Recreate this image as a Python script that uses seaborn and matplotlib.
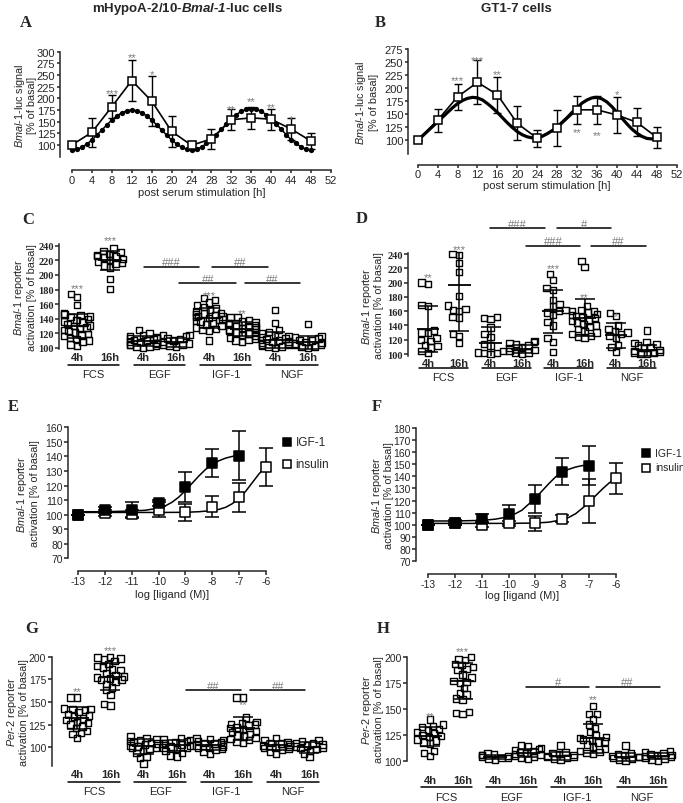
import warnings
import numpy as np
import pandas as pd
import matplotlib
matplotlib.use('Agg')
import matplotlib.pyplot as plt
import seaborn as sns

warnings.filterwarnings('ignore')

# ---------------- A / B : Bmal-1-luc time course ----------------
hours = [0, 4, 8, 12, 16, 20, 24, 28, 32, 36, 40, 44, 48]
a_signal = [100, 127, 182, 238, 194, 129, 99, 113, 154, 158, 155, 134, 108]
a_sd = [0, 31, 25, 44, 53, 33, 10, 22, 22, 24, 22, 24, 17]
b_signal = [100, 138, 183, 211, 187, 132, 103, 123, 158, 158, 148, 134, 105]
b_sd = [0, 22, 25, 42, 35, 33, 17, 35, 27, 27, 35, 27, 20]

fit_hours = list(range(49))
a_fit = [89, 90.5, 95, 102, 110.5, 121, 132, 143, 153.5, 162, 169, 173.5, 175,
         173.5, 169, 162, 153.5, 143, 132, 121, 110.5, 102, 95, 90.5, 89,
         90.5, 95.5, 103, 111, 122, 133.5, 145, 156, 165, 172, 176.5, 178,
         176.5, 172, 165, 156, 145, 133.5, 122, 111, 103, 95.5, 90.5, 89]
b_fit = [100, 108, 117, 126, 135, 144, 153, 162, 170, 176, 180, 182, 181,
         177, 170, 162, 153, 143, 133, 124, 116, 110, 106, 104, 104,
         107, 112, 118, 125, 134, 143, 153, 162, 171, 177, 181, 182,
         179, 173, 164, 153, 142, 131, 121, 113, 107, 103, 102, 104]

a_stars = [(8, 219, '***'), (12, 295, '**'), (16, 259, '*'), (32, 184, '**'),
           (36, 201, '**'), (40, 188, '**'), (44, 163, '*')]
b_stars = [(8, 222, '***'), (12, 260, '***'), (16, 233, '**'), (32, 121, '**'),
           (36, 115, '**'), (40, 194, '*')]

# ---------------- C / D / G / H : reporter activation ----------------
cond_order = ['FCS 4h', 'FCS 16h', 'EGF 4h', 'EGF 16h',
              'IGF-1 4h', 'IGF-1 16h', 'NGF 4h', 'NGF 16h']
time_labels = ['4h', '16h'] * 4
factor_labels = ['FCS', 'EGF', 'IGF-1', 'NGF']

c_vals = [
    [174, 170, 159, 147, 146, 145, 143, 142, 140, 138, 136, 135, 133, 131, 130,
     128, 127, 125, 123, 121, 119, 118, 116, 114, 112, 110, 108, 105, 103],
    [236, 233, 231, 229, 227, 226, 225, 224, 222, 220, 218, 216, 215, 213, 210, 194, 181],
    [125, 120, 118, 116, 115, 114, 113, 112, 111, 110, 109, 108, 107, 106, 105,
     104, 103, 102, 101, 100],
    [118, 118, 116, 114, 112, 110, 108, 106, 105, 104, 103, 102],
    [168, 166, 162, 158, 156, 154, 152, 150, 148, 147, 146, 145, 144, 143, 142,
     141, 140, 138, 137, 136, 134, 132, 130, 128, 126, 125, 124, 110],
    [142, 142, 138, 136, 135, 134, 133, 132, 131, 130, 129, 128, 127, 126, 125,
     124, 122, 121, 120, 118, 116, 114, 112, 111, 110, 108],
    [152, 134, 125, 122, 120, 118, 116, 115, 113, 112, 110, 109, 108, 107, 106,
     105, 104, 103, 102, 101, 100],
    [133, 116, 115, 113, 111, 110, 108, 107, 106, 105, 104, 102, 101, 100],
]
c_mean = [130, 220, 110, 108, 141, 126, 111, 108]
c_sd = [17, 13, 7, 6, 14, 10, 11, 9]
c_stars = [(0, 187, '***'), (1, 252, '***'), (4, 177, '***'), (5, 153, '**')]
c_hash = [(2.03, 3.70, 211, '###'), (4.10, 5.77, 211, '##'),
          (3.10, 4.82, 188.5, '##'), (5.08, 6.75, 188.5, '##')]

d_vals = [
    [200, 198, 169, 167, 133, 130, 129, 122, 120, 118, 113, 111, 109, 104, 101],
    [240, 239, 227, 215, 181, 168, 163, 162, 160, 152, 151, 128, 125, 115],
    [152, 150, 149, 137, 128, 124, 114, 112, 104, 102, 101, 100, 101],
    [118, 117, 115, 114, 112, 110, 108, 106, 104, 102, 101, 100],
    [212, 204, 192, 190, 176, 170, 167, 162, 160, 158, 155, 145, 140, 122, 117, 103],
    [230, 222, 167, 162, 160, 160, 158, 156, 155, 153, 152, 150, 148, 146, 144,
     142, 140, 138, 135, 132, 130, 128, 125, 124, 122],
    [157, 153, 140, 135, 132, 130, 128, 125, 122, 113, 110, 103],
    [133, 117, 115, 114, 112, 110, 108, 106, 104, 103, 102, 101, 100, 100],
]
d_mean = [135, 197, 115, 107, 160, 151, 126, 105]
d_sd = [32, 65, 23, 6, 30, 26, 18, 8]
d_stars = [(0, 212, '**'), (1, 252, '***'), (4, 225, '***'), (5, 185, '**'), (6, 158, '*')]
d_hash = [(1.98, 3.74, 276, '###'), (4.11, 5.84, 276, '#'),
          (3.13, 4.85, 251, '###'), (5.20, 6.97, 251, '##')]

g_vals = [
    [155, 155, 143, 142, 142, 141, 139, 137, 135, 134, 132, 130, 128, 127, 125,
     123, 121, 118, 116, 115, 110],
    [200, 199, 198, 197, 195, 192, 190, 188, 186, 185, 182, 180, 178, 177, 176,
     175, 174, 172, 170, 166, 163, 158, 148, 146],
    [112, 110, 109, 108, 107, 106, 105, 104, 103, 102, 101, 100, 99, 98, 96, 94, 90, 88, 82],
    [110, 109, 108, 107, 106, 105, 104, 103, 102, 101, 100, 99, 98, 96, 94, 91, 90],
    [110, 109, 108, 107, 106, 105, 104, 103, 102, 101, 100, 99, 98, 97, 95, 93],
    [155, 155, 133, 128, 127, 126, 125, 124, 122, 121, 120, 118, 117, 115, 113,
     112, 110, 109, 108, 106, 105],
    [110, 108, 106, 105, 104, 103, 102, 101, 100, 99, 98, 97, 95, 93],
    [108, 107, 105, 104, 103, 102, 101, 100, 99, 98, 96, 93, 89],
]
g_mean = [132, 178, 101, 102, 102, 121, 102, 100]
g_sd = [12, 15, 8, 6, 5, 13, 5, 6]
g_stars = [(0, 166, '**'), (1, 211, '***'), (5, 151.5, '**')]
g_hash = [(3.27, 4.94, 163, '##'), (5.22, 6.88, 163, '##')]

h_vals = [
    [140, 135, 134, 133, 131, 130, 128, 127, 125, 124, 123, 121, 120, 118, 117, 110, 108, 105],
    [200, 198, 197, 193, 192, 190, 188, 187, 183, 180, 177, 176, 175, 170, 165,
     164, 160, 159, 147, 146, 145],
    [108, 107, 106, 106, 105, 104, 103, 103, 102, 101],
    [115, 114, 113, 112, 111, 110, 109, 108, 107, 106, 105, 104, 103, 102],
    [115, 109, 108, 107, 106, 105, 104, 104, 103, 102, 101],
    [153, 145, 145, 140, 135, 132, 128, 125, 123, 122, 121, 120, 119, 118, 116,
     114, 112, 110, 109, 108, 107],
    [115, 108, 107, 106, 105, 104, 104, 103, 102, 101, 100],
    [110, 109, 108, 107, 106, 106, 105, 104, 103, 102, 101, 100],
]
h_mean = [124, 177, 104, 108, 105, 122, 104, 105]
h_sd = [9, 17, 2, 4, 4, 14, 4, 3]
h_stars = [(0, 146, '**'), (1, 209, '***'), (5, 163, '**')]
h_hash = [(2.94, 4.89, 171.3, '#'), (5.08, 7.04, 171.3, '##')]

# ---------------- E / F : dose response ----------------
igf_doses = [-13, -12, -11, -10, -9, -8, -7]
ins_doses = [-13, -12, -11, -10, -9, -8, -7, -6]
e_igf = [100, 103, 103.5, 108, 119, 135.5, 140.5]
e_igf_sd = [0, 2, 5, 2, 10.5, 9.5, 17]
e_ins = [100, 101, 100.5, 103.5, 101.5, 105.5, 112, 133]
e_ins_sd = [0, 2, 3, 5, 6, 7, 10, 13]
f_igf = [100, 101.5, 105, 108.5, 121.5, 144, 149]
f_igf_sd = [0, 2, 4, 8, 11.5, 11.5, 16.5]
f_ins = [100, 101, 100, 101, 101, 105, 119.5, 138.5]
f_ins_sd = [0, 1, 2, 2, 6, 3, 18, 13]

igf_curve_x = [-13, -12, -11, -10.5, -10, -9.75, -9.5, -9.25, -9, -8.75, -8.5,
               -8.25, -8, -7.75, -7.5, -7.25, -7]
ins_curve_x = [-13, -12, -11, -10, -9, -8.5, -8, -7.75, -7.5, -7.25, -7,
               -6.75, -6.5, -6.25, -6]
e_igf_curve = [102, 102, 102.5, 103, 104.5, 106, 108.5, 112, 116.5, 121.5, 126.5,
               131, 134.5, 137, 138.8, 140, 140.8]
e_ins_curve = [101.5, 101.5, 101.5, 101.5, 101.6, 102, 102.8, 103.6, 105, 107.5,
               111, 116, 122, 128, 133]
f_igf_curve = [103, 103, 103.5, 104.5, 106.5, 109, 112, 117, 122, 128, 134,
               139.5, 143.5, 146, 147.8, 149, 149.5]
f_ins_curve = [101, 101, 101, 101, 101.3, 102, 104, 106, 109, 113.5, 118.5,
               124, 129.5, 134.5, 138.5]

# ---------------- style ----------------
sns.set_style('ticks')
plt.rcParams['font.family'] = ['Liberation Sans', 'DejaVu Sans']
plt.rcParams['mathtext.fontset'] = 'custom'
plt.rcParams['mathtext.rm'] = 'Liberation Sans'
plt.rcParams['mathtext.it'] = 'Liberation Sans:italic'
plt.rcParams['mathtext.bf'] = 'Liberation Sans:italic:bold'
plt.rcParams['axes.unicode_minus'] = False
plt.rcParams['axes.linewidth'] = 1.1

STAR = '#7a7a7a'
SERIF = dict(fontfamily='Liberation Serif', fontweight='bold')
SANS = dict(fontfamily='Liberation Sans')

W, H = 683, 804
fig = plt.figure(figsize=(W / 100, H / 100), dpi=100)
swarms = []   # swarm collections, frozen before saving


def add_ax(left, top, right, bottom):
    return fig.add_axes([left / W, 1 - bottom / H, (right - left) / W, (bottom - top) / H])


def ftext(x, y, s, **kw):
    fig.text(x / W, 1 - y / H, s, **kw)


def mark(ax, x, y, s):
    # y is where the star glyphs are centred
    ax.annotate(s, (x, y), xytext=(0, -4.6), textcoords='offset points',
                ha='center', va='baseline', fontsize=8, color=STAR, annotation_clip=False)


def hash_bar(ax, x0, x1, y, s):
    ax.plot([x0, x1], [y, y], color='black', lw=1.1, clip_on=False)
    ax.annotate(s, ((x0 + x1) / 2, y), xytext=(0, 1.2), textcoords='offset points',
                ha='center', va='baseline', fontsize=8, color=STAR, annotation_clip=False)


def time_panel(rect, ylim, yticks, signal, sd, fit, stars, left_out, bottom_out, dotted):
    ax = add_ax(*rect)
    if dotted:
        sns.lineplot(x=fit_hours, y=fit, ax=ax, color='black', lw=1.1, marker='o',
                     markersize=3.8, markeredgewidth=0, markeredgecolor='black',
                     zorder=1, clip_on=False)
    else:
        sns.lineplot(x=fit_hours, y=fit, ax=ax, color='black', lw=2.3, zorder=1, clip_on=False)
    ax.errorbar(hours, signal, yerr=sd, fmt='none', ecolor='black', elinewidth=1,
                capsize=3, capthick=1, zorder=2, clip_on=False)
    sns.lineplot(x=hours, y=signal, ax=ax, color='black', lw=1.2, marker='s',
                 markersize=6, markerfacecolor='white', markeredgecolor='black',
                 markeredgewidth=1.1, zorder=3, clip_on=False)
    for x, y, s in stars:
        mark(ax, x, y, s)
    ax.set(xlim=(0, 52), ylim=ylim, xlabel='', ylabel='')
    xt = list(range(0, 53, 4))
    ax.set_xticks(xt, labels=[str(t) for t in xt], **SERIF)
    ax.set_yticks(yticks, labels=[str(t) for t in yticks], **SERIF)
    ax.tick_params(length=2.5, width=1.1, pad=0.8, labelsize=8)
    sns.despine(ax=ax)
    ax.spines['left'].set_position(('outward', left_out * 0.72))
    ax.spines['bottom'].set_position(('outward', bottom_out * 0.72))
    return ax


def dot_panel(rect, xlim, ylim, yticks, vals, means, sds, stars, hashes,
              tick_font, tick_size, lab_pad, line_off, group_off):
    ax = add_ax(*rect)
    df = pd.DataFrame({'cond': np.repeat(cond_order, [len(v) for v in vals]),
                       'value': np.concatenate(vals)})
    # swarm laid out with a smaller marker so the columns stay narrow (points overlap)
    sns.swarmplot(data=df, x='cond', y='value', order=cond_order, ax=ax,
                  marker='s', size=3.6, color='white', edgecolor='black',
                  linewidth=1.0, clip_on=False, zorder=3)
    for coll in ax.collections:
        coll.set_facecolor('none')
        swarms.append(coll)
    pos = np.arange(len(cond_order))
    ax.errorbar(pos, means, yerr=sds, fmt='none', ecolor='black', elinewidth=1.1,
                capsize=7, capthick=1.1, zorder=4)
    ax.errorbar(pos, means, xerr=0.36, fmt='none', ecolor='black', elinewidth=1.3, zorder=4)
    for x, y, s in stars:
        mark(ax, x, y, s)
    for x0, x1, y, s in hashes:
        hash_bar(ax, x0, x1, y, s)
    ax.set(xlim=xlim, ylim=ylim, xlabel='', ylabel='')
    ax.set_yticks(yticks, labels=[str(t) for t in yticks], **tick_font)
    ax.set_xticks(pos, labels=time_labels, fontweight='bold')
    ax.tick_params(axis='x', length=0, pad=lab_pad, labelsize=8)
    ax.tick_params(axis='y', length=3, width=1.1, pad=1, labelsize=tick_size)
    sns.despine(ax=ax, bottom=True)
    trans = ax.get_xaxis_transform()
    h_px = rect[3] - rect[1]
    for g, name in enumerate(factor_labels):
        ax.plot([2 * g - 0.28, 2 * g + 1.28], [-line_off / h_px] * 2, transform=trans,
                color='black', lw=1.1, clip_on=False)
        ax.text(2 * g + 0.5, -group_off / h_px, name, transform=trans,
                ha='center', va='center', fontsize=8)
    return ax


def dose_panel(rect, ylim, yticks, igf, igf_sd, ins, ins_sd, igf_curve, ins_curve,
               left_out, bottom_out, legend_xy):
    ax = add_ax(*rect)
    sns.lineplot(x=igf_curve_x, y=igf_curve, ax=ax, color='black', lw=1.1, clip_on=False)
    sns.lineplot(x=ins_curve_x, y=ins_curve, ax=ax, color='black', lw=1.1, clip_on=False)
    ax.errorbar(ins_doses, ins, yerr=ins_sd, fmt='none', ecolor='black', elinewidth=1.1,
                capsize=5, capthick=1.1, clip_on=False, zorder=2)
    ax.errorbar(igf_doses, igf, yerr=igf_sd, fmt='none', ecolor='black', elinewidth=1.1,
                capsize=5, capthick=1.1, clip_on=False, zorder=2)
    sns.scatterplot(x=ins_doses, y=ins, ax=ax, marker='s', s=46, color='white',
                    edgecolor='black', linewidth=1.1, zorder=3, clip_on=False)
    sns.scatterplot(x=igf_doses, y=igf, ax=ax, marker='s', s=46, color='black',
                    edgecolor='black', linewidth=1.1, zorder=4, clip_on=False)
    ax.set(xlim=(-13, -6), ylim=ylim, xlabel='', ylabel='')
    xt = list(range(-13, -5))
    ax.set_xticks(xt, labels=[str(t) for t in xt])
    ax.set_yticks(yticks, labels=[str(t) for t in yticks])
    ax.tick_params(length=2.6, width=1.1, pad=1, labelsize=7.5)
    sns.despine(ax=ax)
    ax.spines['left'].set_position(('outward', left_out * 0.72))
    ax.spines['bottom'].set_position(('outward', bottom_out * 0.72))
    # legend, placed by hand
    lx, ly1, ly2, fs = legend_xy
    for yy, fc, name in [(ly1, 'black', 'IGF-1'), (ly2, 'white', 'insulin')]:
        ax.plot([lx / W], [1 - yy / H], transform=fig.transFigure, marker='s', ms=6,
                mfc=fc, mec='black', mew=1.1, ls='none', clip_on=False)
        ftext(lx + 9, yy, name, ha='left', va='center', fontsize=fs)
    return ax


# ---------------- panels ----------------
time_panel((72, 52.7, 331, 158), (74, 300), list(range(100, 301, 25)),
           a_signal, a_sd, a_fit, a_stars, 12, 13, True)
time_panel((417.7, 50, 676.7, 155), (73, 275), list(range(100, 276, 25)),
           b_signal, b_sd, b_fit, b_stars, 10, 10.7, False)

dot_panel((59.3, 245, 330, 350), (-0.536, 7.657), (98.6, 242.3), list(range(100, 241, 20)),
          c_vals, c_mean, c_sd, c_stars, c_hash, SERIF, 7.5, 2.2, 15.5, 25)
dot_panel((408.3, 254.3, 665, 357.3), (-0.629, 7.57), (96.8, 241), list(range(100, 241, 20)),
          d_vals, d_mean, d_sd, d_stars, d_hash, SERIF, 7.5, 1, 12, 21)

dose_panel((78.3, 428.3, 265.7, 559.3), (70, 160), list(range(70, 161, 10)),
           e_igf, e_igf_sd, e_ins, e_ins_sd, e_igf_curve, e_ins_curve, 10.6, 13,
           (286.7, 443.3, 465, 8.5))
dose_panel((428.3, 429.3, 615.7, 561.7), (70, 180), list(range(70, 181, 10)),
           f_igf, f_igf_sd, f_ins, f_ins_sd, f_igf_curve, f_ins_curve, 12.3, 13.3,
           (646, 454.3, 468.5, 7.5))

dot_panel((51.7, 657.7, 325, 766.7), (-0.772, 7.47), (79.7, 200), list(range(100, 201, 25)),
          g_vals, g_mean, g_sd, g_stars, g_hash, SANS, 7.5, 2.2, 16.5, 25)
dot_panel((407.3, 657.7, 672, 762.3), (-0.696, 7.42), (100, 200), list(range(100, 201, 25)),
          h_vals, h_mean, h_sd, h_stars, h_hash, SANS, 7.5, 9.6, 26, 36)

# ---------------- texts ----------------
ftext(188, 9, r'mHypoA-2/10-$\mathbf{Bmal}$-$\mathbf{1}$-luc cells', ha='center', va='center',
      fontsize=9.5, fontweight='bold')
ftext(516.7, 9, 'GT1-7 cells', ha='center', va='center', fontsize=9.5, fontweight='bold')

for letter, x, y in [('A', 26, 23), ('B', 380, 23), ('C', 28, 220), ('D', 361.7, 219),
                     ('E', 13.3, 407), ('F', 376.7, 407), ('G', 31.7, 629), ('H', 383.3, 629)]:
    ftext(x, y, letter, ha='center', va='center', fontsize=12, fontfamily='Liberation Serif',
          fontweight='bold')

for x, y in [(201.5, 193), (547.2, 186)]:
    ftext(x, y, 'post serum stimulation [h]', ha='center', va='center', fontsize=8)
for x, y in [(172, 594.5), (522, 596.5)]:
    ftext(x, y, 'log [ligand (M)]', ha='center', va='center', fontsize=8)

bmal_luc = '$Bmal$-$\\mathit{1}$-luc signal\n[% of basal]'
bmal_rep = '$Bmal$-$\\mathit{1}$ reporter\nactivation [% of basal]'
per_rep = '$Per$-$\\mathit{2}$ reporter\nactivation [% of basal]'
for x, y, s in [(25, 105.3, bmal_luc), (366.7, 102.5, bmal_luc), (24.5, 297.5, bmal_rep),
                (372, 305.8, bmal_rep), (27.5, 493.8, bmal_rep), (382, 495.5, bmal_rep),
                (17, 712.2, per_rep), (372, 710, per_rep)]:
    ftext(x, y, s, ha='center', va='center', rotation=90, fontsize=7.8, linespacing=1.1)

# lay out the swarms once, then keep those positions and draw the full-size squares
fig.canvas.draw()
for coll in swarms:
    if 'draw' in coll.__dict__:
        del coll.draw
    coll.set_sizes([4.6 ** 2])

fig.savefig('out.png', dpi=100)
